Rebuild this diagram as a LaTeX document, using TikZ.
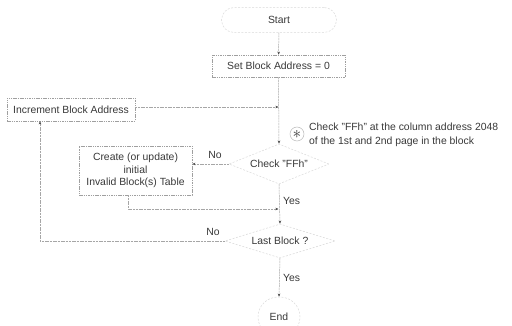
\documentclass[tikz,border=0pt]{standalone}
\usepackage{fontspec}
\setmainfont{Liberation Sans}
\usetikzlibrary{shapes.geometric,arrows.meta}
\begin{document}
\begin{tikzpicture}[x=1pt,y=-1pt,
  every node/.style={font=\fontsize{10.4}{12.5}\selectfont, text=black!78},
  box/.style={draw=gray!75, line width=0.5pt, dash pattern=on 1.5pt off 0.8pt, inner sep=1pt},
  faint/.style={draw=gray!30, line width=0.5pt, dash pattern=on 2pt off 1.5pt, inner sep=1pt},
  dia/.style={faint, diamond, aspect=2.5, inner sep=0pt},
  conn/.style={draw=gray!70, line width=0.5pt, dash pattern=on 2pt off 0.7pt},
  arr/.style={conn, -{Stealth[length=3.2pt,width=2.6pt,black!70]}},
  lbl/.style={inner sep=0pt}
]
\useasboundingbox (0,0) rectangle (512,326);
\node[faint, rounded corners=12.5pt, minimum width=115pt, minimum height=25pt] (start) at (279,20) {Start};
\node[box, minimum width=133pt, minimum height=22pt] (setb) at (278.5,66) {Set Block Address = 0};
\node[box, minimum width=128pt, minimum height=23pt] (incr) at (71,109.5) {Increment Block Address};
\node[dia, minimum width=100pt, minimum height=40pt] (chk) at (279,164) {Check "FFh"};
\node[box, minimum width=113pt, minimum height=49pt, align=center] (create) at (135.5,170.5) {Create (or update)\\initial\\Invalid Block(s) Table};
\node[dia, minimum width=110pt, minimum height=34pt] (last) at (280,241) {Last Block ?};
\node[faint, rounded corners=20pt, minimum width=42pt, minimum height=40pt] (end) at (279,317) {End};
\node[circle, draw=gray!55, line width=0.5pt, inner sep=0pt, minimum size=14pt, font=\fontsize{17}{17}\selectfont] (star) at (297,134) {$\ast$};
\node[lbl, anchor=base west] (note1) at (309,131) {Check "FFh" at the column address 2048};
\node[lbl, anchor=base west] (note2) at (309,145) {of the 1st and 2nd page in the block};
\node[lbl] (no1) at (215,155) {No};
\node[lbl] (no2) at (213,232) {No};
\node[lbl, anchor=west] (yes1) at (283,201) {Yes};
\node[lbl, anchor=west] (yes2) at (283,278) {Yes};
\coordinate (m1) at (setb.south |- 0,107);
\coordinate (m2) at (setb.south |- 0,209);
\draw[arr] (start) -- (setb);
\draw[arr] (setb.south) -- (chk.north);
\draw[arr] (incr.east |- m1) -- (m1);
\draw[arr] (chk.west) -- (chk.west -| create.east);
\draw[arr] (chk.south) -- (last.north);
\draw[arr] ([xshift=-7.5pt]create.south) |- (m2);
\draw[arr] (last.west) -| ([xshift=-31pt]incr.south);
\draw[arr] (last.south) -- (end.north);
\end{tikzpicture}
\end{document}
